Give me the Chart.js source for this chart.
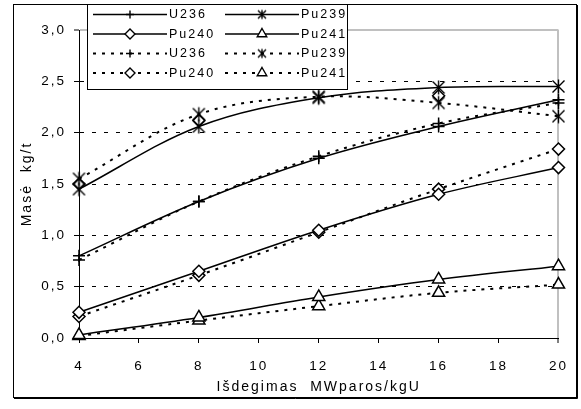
<!DOCTYPE html>
<html>
<head>
<meta charset="utf-8">
<script src="https://cdn.jsdelivr.net/npm/chart.js@4.4.1/dist/chart.umd.min.js"></script>
<style>
  html, body { margin: 0; padding: 0; background: #fff; }
  #wrap { width: 581px; height: 409px; position: relative; }
</style>
</head>
<body>
<div id="wrap"><canvas id="massChart" width="581" height="409"></canvas></div>
<script>
'use strict';

// ============================================================
// DATA
// ============================================================
const burnup     = [4, 8, 12, 16, 20];
const xTicks     = [4, 6, 8, 10, 12, 14, 16, 18, 20];
const yTicks     = [0, 0.5, 1, 1.5, 2, 2.5, 3];
const yTickText  = ['0,0', '0,5', '1,0', '1,5', '2,0', '2,5', '3,0'];

// solid lines
const u236Solid  = [0.80, 1.33, 1.75, 2.06, 2.32];
const pu239Solid = [1.45, 2.06, 2.34, 2.44, 2.45];
const pu240Solid = [0.25, 0.65, 1.05, 1.40, 1.66];
const pu241Solid = [0.03, 0.20, 0.40, 0.57, 0.70];

// dashed lines
const u236Dash   = [0.76, 1.33, 1.77, 2.09, 2.29];
const pu239Dash  = [1.55, 2.18, 2.35, 2.29, 2.16];
const pu240Dash  = [0.21, 0.61, 1.03, 1.45, 1.84];
const pu241Dash  = [0.02, 0.17, 0.31, 0.44, 0.52];

// loose diamond markers sitting on the Pu239 curves
const strayDiamonds = [1.50, 2.12, null, 2.36, null];

// ============================================================
// MARKERS
// ============================================================
function makeStar(d, h) {
  const c = document.createElement('canvas');
  const s = Math.ceil(Math.max(d, h) * 2 + 3);
  c.width = s; c.height = s;
  const g = c.getContext('2d');
  const m = s / 2;
  g.strokeStyle = '#000';
  g.lineWidth = 1.4;
  g.beginPath();
  g.moveTo(m - d, m - d); g.lineTo(m + d, m + d);
  g.moveTo(m + d, m - d); g.lineTo(m - d, m + d);
  g.moveTo(m, m - h);     g.lineTo(m, m + h);
  g.stroke();
  return c;
}
const starBig   = makeStar(6, 7);
const starSmall = makeStar(4, 4.5);

const DASH = [3, 6];
const FONT = "'Liberation Sans', Arial, sans-serif";

function toPoints(vals) {
  return burnup.map((x, i) => ({ x: x, y: vals[i] }));
}

function series(label, vals, kind, dashed) {
  const sizes  = { plus: 6, star: 7, diamond: 6, triangle: 7 };
  const styles = { plus: 'cross', star: starBig, diamond: 'rectRot', triangle: 'triangle' };
  return {
    label: label,
    data: toPoints(vals),
    kind: kind,
    dashed: dashed,
    borderColor: '#000',
    borderWidth: dashed ? 2 : 1.5,
    borderDash: dashed ? DASH : [],
    tension: 0.35,
    fill: false,
    clip: false,
    pointStyle: styles[kind],
    pointRadius: sizes[kind],
    pointHoverRadius: sizes[kind],
    pointBorderColor: '#000',
    pointBackgroundColor: '#fff',
    pointBorderWidth: 1.5,
  };
}

const datasets = [
  series('U236',  u236Solid,  'plus',     false),
  series('Pu239', pu239Solid, 'star',     false),
  series('Pu240', pu240Solid, 'diamond',  false),
  series('Pu241', pu241Solid, 'triangle', false),
  series('U236',  u236Dash,   'plus',     true),
  series('Pu239', pu239Dash,  'star',     true),
  series('Pu240', pu240Dash,  'diamond',  true),
  series('Pu241', pu241Dash,  'triangle', true),
];
const stray = series('', strayDiamonds, 'diamond', false);
stray.showLine = false;
stray.inLegend = false;
datasets.push(stray);

// ============================================================
// PLUGINS
// ============================================================
const spacing = {
  id: 'spacing',
  beforeDraw(chart) { chart.ctx.letterSpacing = '2px'; }
};

const frameAndLegend = {
  id: 'frameAndLegend',
  afterDraw(chart) {
    const ctx = chart.ctx;
    ctx.save();
    ctx.setLineDash([]);

    // outer frame
    ctx.strokeStyle = '#000';
    ctx.lineWidth = 1;
    ctx.strokeRect(13.5, 4.5, 563, 393);
    ctx.beginPath(); ctx.moveTo(577.5, 5); ctx.lineTo(577.5, 398.5); ctx.lineTo(14, 398.5); ctx.stroke();

    // legend box
    ctx.fillStyle = '#fff';
    ctx.fillRect(87, 4, 260, 85);
    ctx.strokeRect(87.5, 4.5, 260, 85);

    ctx.font = '12.5px ' + FONT;
    ctx.letterSpacing = '2px';
    ctx.textBaseline = 'middle';
    ctx.textAlign = 'left';
    const legendStyles = { plus: 'cross', star: starSmall, diamond: 'rectRot', triangle: 'triangle' };
    const legendSizes  = { plus: 4, star: 4, diamond: 5, triangle: 5.5 };

    chart.data.datasets.filter(d => d.inLegend !== false).forEach((ds, i) => {
      const row = Math.floor(i / 2), col = i % 2;
      const y = 14.5 + row * 19.5;
      const x0 = col ? 225 : 93;
      const x1 = x0 + 74;
      const xm = x0 + 37;

      ctx.strokeStyle = '#000';
      ctx.lineWidth = ds.borderWidth;
      ctx.setLineDash(ds.borderDash);
      ctx.beginPath(); ctx.moveTo(x0, y); ctx.lineTo(x1, y); ctx.stroke();
      ctx.setLineDash([]);

      ctx.fillStyle = '#fff';
      ctx.lineWidth = 1.4;
      Chart.helpers.drawPoint(ctx, {
        pointStyle: legendStyles[ds.kind],
        radius: legendSizes[ds.kind],
        rotation: 0,
        borderWidth: 1.4,
      }, xm, y);

      ctx.fillStyle = '#000';
      ctx.fillText(ds.label, x1 + 2, y + 0.5);
    });
    ctx.restore();
  }
};

// ============================================================
// CHART
// ============================================================
new Chart(document.getElementById('massChart'), {
  type: 'line',
  data: { datasets: datasets },
  plugins: [spacing, frameAndLegend],
  options: {
    responsive: false,
    animation: false,
    events: [],
    layout: { padding: { left: 0, right: 14, top: 30, bottom: 0 } },
    plugins: { legend: { display: false }, tooltip: { enabled: false } },
    scales: {
      x: {
        type: 'linear',
        min: xTicks[0],
        max: xTicks[xTicks.length - 1],
        afterFit: s => { s.height = 71; },
        afterBuildTicks: s => { s.ticks = xTicks.map(v => ({ value: v })); },
        ticks: {
          color: '#000',
          font: { family: FONT, size: 13.5 },
          padding: 15,
          maxRotation: 0,
          callback: v => String(v),
        },
        grid: {
          drawOnChartArea: true,
          color: c => (c.tick && c.tick.value === 20) ? '#c0c0c0' : 'rgba(0,0,0,0)',
          lineWidth: c => (c.tick && c.tick.value === 20) ? 2 : 1,
          tickColor: '#000',
          tickLength: 5,
          tickWidth: 1,
        },
        border: { display: true, color: '#000', width: 1 },
        title: {
          display: true,
          text: 'Išdegimas  MWparos/kgU',
          color: '#000',
          font: { family: FONT, size: 14 },
          padding: { top: 0, bottom: 13 },
        },
      },
      y: {
        min: yTicks[0],
        max: yTicks[yTicks.length - 1],
        afterFit: s => { s.width = 79; },
        afterBuildTicks: s => { s.ticks = yTicks.map(v => ({ value: v })); },
        ticks: {
          color: '#000',
          font: { family: FONT, size: 13.5 },
          padding: 8,
          callback: (v, i) => yTickText[i],
        },
        grid: {
          color: c => {
            const v = c.tick ? c.tick.value : null;
            if (v === 3) return '#c0c0c0';
            if (v === 0) return 'rgba(0,0,0,0)';
            return '#000';
          },
          lineWidth: c => (c.tick && c.tick.value === 3) ? 2 : 1,
          tickColor: '#000',
          tickLength: 5,
          tickWidth: 1,
        },
        border: {
          display: true,
          color: '#000',
          width: 1,
          dash: c => (c.tick && c.tick.value === 3) ? [] : [4, 8],
        },
        title: {
          display: true,
          text: 'Masė  kg/t',
          color: '#000',
          font: { family: FONT, size: 14 },
          padding: { top: 19, bottom: 0 },
        },
      },
    },
  },
});
</script>
</body>
</html>
